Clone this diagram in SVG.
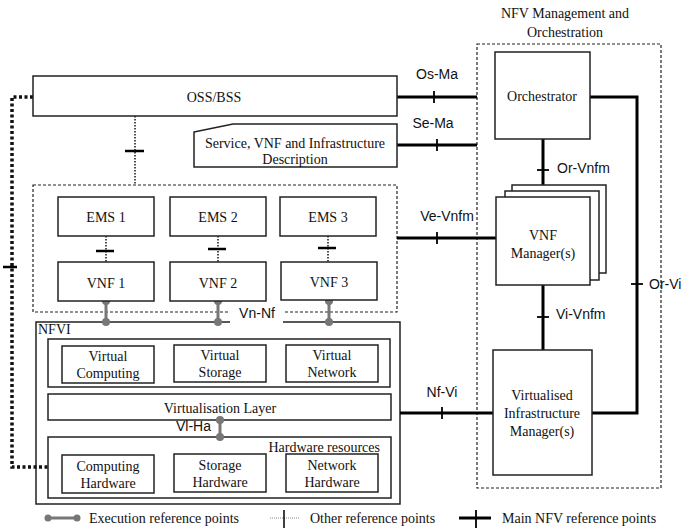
<svg xmlns="http://www.w3.org/2000/svg" width="681" height="528" viewBox="0 0 681 528">
<style>
.box{fill:#fff;stroke:#222;stroke-width:1.5}
.dbox{fill:none;stroke:#222;stroke-width:1.2;stroke-dasharray:3 2}
.t{font-family:"Liberation Serif","Times New Roman",serif;font-size:14px;fill:#111;text-anchor:middle}
.ts{font-family:"Liberation Serif","Times New Roman",serif;font-size:14px;fill:#111}
.l{font-family:"Liberation Sans",Arial,sans-serif;font-size:14px;fill:#111}
.lc{font-family:"Liberation Sans",Arial,sans-serif;font-size:14px;fill:#111;text-anchor:middle}
.main{fill:none;stroke:#000;stroke-width:3}
.mtick{stroke:#000;stroke-width:1.8}
.oth{fill:none;stroke:#222;stroke-width:1.6;stroke-dasharray:1.5 1.5}
.otick{stroke:#000;stroke-width:2.5}
.exe{stroke:#777;stroke-width:3}
.dot{fill:#777}
.big{fill:none;stroke:#111;stroke-width:3.5;stroke-dasharray:3 2.5}
</style>

<g id="mano-title">
<text class="t" x="565" y="18">NFV Management and</text>
<text class="t" x="565" y="37">Orchestration</text>
</g>

<g id="mano">
<rect class="dbox" x="477" y="44" width="184" height="444"/>
</g>

<g id="vnf-domain">
<rect class="dbox" x="33" y="185" width="364" height="127"/>
</g>

<g id="nfvi">
<rect class="box" x="36" y="322" width="364" height="182"/>
<text class="ts" x="38" y="334">NFVI</text>
</g>

<g id="connectors">
<line class="main" x1="397" y1="97" x2="477" y2="97"/>
<line class="mtick" x1="434" y1="91" x2="434" y2="103"/>
<line class="main" x1="397" y1="145" x2="477" y2="145"/>
<line class="mtick" x1="437" y1="139" x2="437" y2="151"/>
<line class="main" x1="397" y1="238" x2="496" y2="238"/>
<line class="mtick" x1="437" y1="232" x2="437" y2="244"/>
<line class="main" x1="400" y1="413" x2="493" y2="413"/>
<line class="mtick" x1="442" y1="407" x2="442" y2="419"/>
<line class="main" x1="543" y1="139" x2="543" y2="185"/>
<line class="mtick" x1="537" y1="170" x2="549" y2="170"/>
<line class="main" x1="543" y1="285" x2="543" y2="350"/>
<line class="mtick" x1="537" y1="317" x2="549" y2="317"/>
<polyline class="main" points="590,97 637,97 637,413 592,413"/>
<line class="mtick" x1="631" y1="284" x2="643" y2="284"/>
<line class="oth" x1="135" y1="116" x2="135" y2="185"/>
<line class="otick" x1="125" y1="151" x2="144" y2="151"/>
<line class="oth" x1="106" y1="236" x2="106" y2="262"/>
<line class="otick" x1="96" y1="251" x2="114" y2="251"/>
<line class="oth" x1="218" y1="236" x2="218" y2="262"/>
<line class="otick" x1="208" y1="249" x2="226" y2="249"/>
<line class="oth" x1="328" y1="236" x2="328" y2="262"/>
<line class="otick" x1="318" y1="248" x2="336" y2="248"/>
<polyline class="big" points="33,97 12,97 12,467 48,467"/>
<line class="otick" x1="3" y1="267" x2="17" y2="267"/>
<rect x="230" y="302" width="53" height="22" fill="#fff"/>
<text class="lc" x="257" y="318">Vn-Nf</text>
<line class="exe" x1="106" y1="301" x2="106" y2="322"/>
<circle class="dot" cx="106" cy="301" r="4"/><circle class="dot" cx="106" cy="322" r="4"/>
<line class="exe" x1="218" y1="301" x2="218" y2="322"/>
<circle class="dot" cx="218" cy="301" r="4"/><circle class="dot" cx="218" cy="322" r="4"/>
<line class="exe" x1="329" y1="301" x2="329" y2="322"/>
<circle class="dot" cx="329" cy="301" r="4"/><circle class="dot" cx="329" cy="322" r="4"/>
<text class="lc" x="437" y="79">Os-Ma</text>
<text class="lc" x="433" y="128">Se-Ma</text>
<text class="lc" x="447" y="221">Ve-Vnfm</text>
<text class="lc" x="442" y="397">Nf-Vi</text>
<text class="l" x="557" y="173">Or-Vnfm</text>
<text class="l" x="556" y="319">Vi-Vnfm</text>
<text class="l" x="649" y="289">Or-Vi</text>
</g>

<g id="oss">
<rect class="box" x="33" y="76" width="364" height="40"/>
<text class="t" x="214" y="102">OSS/BSS</text>
</g>

<g id="service-desc">
<polygon class="box" points="194,132 233,124 397,124 397,167 194,167"/>
<text class="t" x="295" y="148">Service, VNF and Infrastructure</text>
<text class="t" x="295" y="164">Description</text>
</g>

<g id="orchestrator">
<rect class="box" x="495" y="52" width="95" height="87"/>
<text class="t" x="542" y="101">Orchestrator</text>
</g>

<g id="vnf-manager">
<rect class="box" x="512" y="185" width="94" height="88"/>
<rect class="box" x="505" y="191" width="94" height="89"/>
<rect class="box" x="496" y="197" width="94" height="88"/>
<text class="t" x="543" y="240">VNF</text>
<text class="t" x="543" y="258">Manager(s)</text>
</g>

<g id="vim">
<rect class="box" x="493" y="350" width="99" height="125"/>
<text class="t" x="542" y="400">Virtualised</text>
<text class="t" x="542" y="418">Infrastructure</text>
<text class="t" x="542" y="436">Manager(s)</text>
</g>

<g id="ems1"><rect class="box" x="58" y="197" width="96" height="39"/><text class="t" x="106" y="222">EMS 1</text></g>
<g id="ems2"><rect class="box" x="170" y="197" width="96" height="39"/><text class="t" x="218" y="222">EMS 2</text></g>
<g id="ems3"><rect class="box" x="280" y="197" width="96" height="39"/><text class="t" x="328" y="222">EMS 3</text></g>
<g id="vnf1"><rect class="box" x="58" y="262" width="96" height="39"/><text class="t" x="106" y="288">VNF 1</text></g>
<g id="vnf2"><rect class="box" x="170" y="262" width="96" height="39"/><text class="t" x="218" y="288">VNF 2</text></g>
<g id="vnf3"><rect class="box" x="281" y="262" width="96" height="38"/><text class="t" x="329" y="287">VNF 3</text></g>

<g id="virtual-resources">
<rect class="box" x="48" y="339" width="342" height="48"/>
</g>
<g id="virtual-computing"><rect class="box" x="62" y="346" width="92" height="37"/><text class="t" x="108" y="361">Virtual</text><text class="t" x="108" y="378">Computing</text></g>
<g id="virtual-storage"><rect class="box" x="174" y="345" width="92" height="37"/><text class="t" x="220" y="360">Virtual</text><text class="t" x="220" y="377">Storage</text></g>
<g id="virtual-network"><rect class="box" x="286" y="345" width="92" height="37"/><text class="t" x="332" y="360">Virtual</text><text class="t" x="332" y="377">Network</text></g>

<g id="virtualisation-layer">
<rect class="box" x="48" y="394" width="343" height="26"/>
<text class="t" x="220" y="413">Virtualisation Layer</text>
</g>

<g id="hardware-resources">
<rect class="box" x="48" y="437" width="343" height="61"/>
<text class="t" x="380" y="452" style="text-anchor:end">Hardware resources</text>
</g>
<g id="computing-hw"><rect class="box" x="62" y="455" width="92" height="38"/><text class="t" x="108" y="471">Computing</text><text class="t" x="108" y="488">Hardware</text></g>
<g id="storage-hw"><rect class="box" x="174" y="454" width="92" height="38"/><text class="t" x="220" y="470">Storage</text><text class="t" x="220" y="487">Hardware</text></g>
<g id="network-hw"><rect class="box" x="286" y="454" width="92" height="38"/><text class="t" x="332" y="470">Network</text><text class="t" x="332" y="487">Hardware</text></g>

<g id="vl-ha">
<line class="exe" x1="220" y1="420" x2="220" y2="437"/>
<circle class="dot" cx="220" cy="420" r="4"/><circle class="dot" cx="220" cy="437" r="4"/>
<text class="l" x="176" y="431">Vl-Ha</text>
</g>

<g id="legend">
<line class="exe" x1="48" y1="518" x2="77" y2="518"/>
<circle class="dot" cx="48" cy="518" r="3.5"/><circle class="dot" cx="77" cy="518" r="3.5"/>
<text class="ts" x="89" y="523">Execution reference points</text>
<line x1="270" y1="518" x2="300" y2="518" stroke="#888" stroke-width="1" stroke-dasharray="1 1"/>
<line x1="284" y1="510" x2="284" y2="528" stroke="#000" stroke-width="1.5"/>
<text class="ts" x="310" y="523">Other reference points</text>
<line class="main" x1="459" y1="518" x2="491" y2="518"/>
<line class="mtick" x1="476" y1="510" x2="476" y2="528"/>
<text class="ts" x="502" y="523">Main NFV reference points</text>
</g>
</svg>
